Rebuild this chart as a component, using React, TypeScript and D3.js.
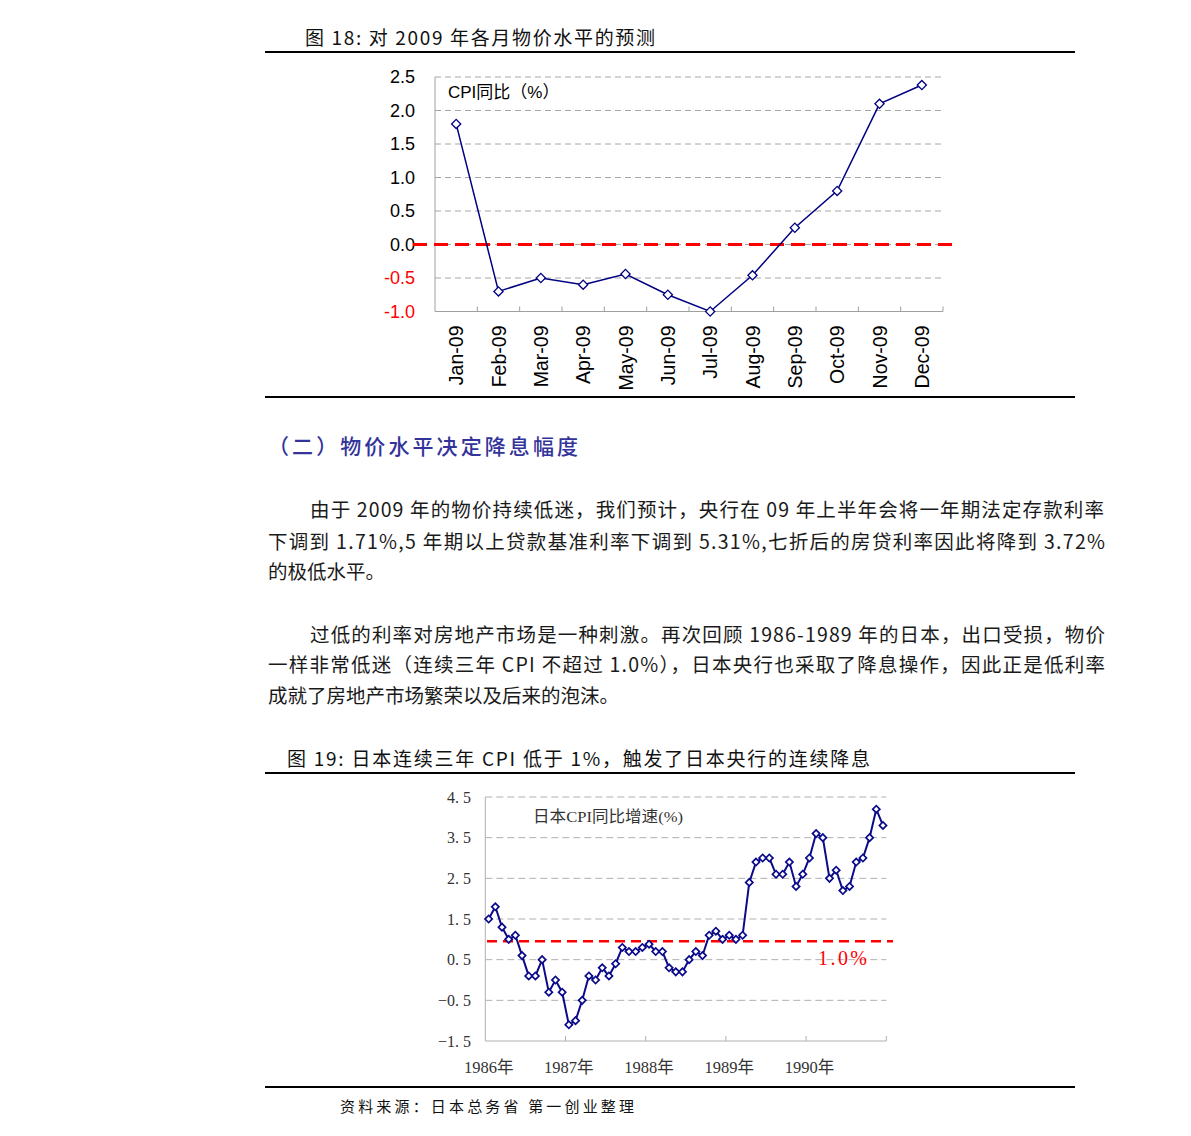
import React from "react";
import * as d3 from "d3";

// ---------- Figure 18 data ----------
const months2009 = ["Jan-09","Feb-09","Mar-09","Apr-09","May-09","Jun-09","Jul-09","Aug-09","Sep-09","Oct-09","Nov-09","Dec-09"];
const cpi2009 = [1.8, -0.7, -0.5, -0.6, -0.44, -0.75, -1.0, -0.46, 0.25, 0.8, 2.1, 2.38];
const ticks2009 = [-1.0, -0.5, 0.0, 0.5, 1.0, 1.5, 2.0, 2.5];

// ---------- Figure 19 data ----------
const jpYears = ["1986年", "1987年", "1988年", "1989年", "1990年"];
const jp1986 = [1.5, 1.8, 1.3, 1.0, 1.1, 0.6, 0.1, 0.1, 0.5, -0.3, 0.0, -0.3];
const jp1987 = [-1.1, -1.0, -0.5, 0.1, 0.0, 0.3, 0.1, 0.4, 0.8, 0.7, 0.7, 0.8];
const jp1988 = [0.88, 0.7, 0.7, 0.3, 0.2, 0.2, 0.5, 0.7, 0.6, 1.1, 1.2, 1.0];
const jp1989 = [1.1, 1.0, 1.1, 2.4, 2.9, 3.0, 3.0, 2.6, 2.6, 2.9, 2.3, 2.6];
const jp1990 = [3.0, 3.6, 3.5, 2.5, 2.7, 2.2, 2.3, 2.9, 3.0, 3.5, 4.2, 3.8];
const jpTicks = [-1.5, -0.5, 0.5, 1.5, 2.5, 3.5, 4.5];
const jpThreshold = 0.95;

const SANS = "Liberation Sans, Arial, 'Noto Sans CJK SC', sans-serif";
const CJK = "'Noto Sans CJK SC', 'Liberation Sans', sans-serif";
const SERIF = "'Liberation Serif', 'DejaVu Serif', 'Noto Sans CJK SC', serif";

function Figure18() {
  const x = d3.scaleBand<string>().domain(months2009).range([435, 943]);
  const y = d3.scaleLinear().domain([-1, 2.5]).range([311.5, 77]);
  const line = d3.line<number>()
    .x((_, i) => (x(months2009[i]) as number) + x.bandwidth() / 2)
    .y((d) => y(d));
  const diamond = d3.symbol(d3.symbolSquare, 42)() as string;
  const bounds = x.range();
  return (
    <g>
      {ticks2009.filter((t) => t !== -1).map((t) => (
        <line key={t} x1={bounds[0]} x2={bounds[1]} y1={y(t)} y2={y(t)} stroke="#a6a6a6" strokeWidth={1} strokeDasharray="6,4" />
      ))}
      <line x1={bounds[0]} x2={bounds[0]} y1={y(2.5)} y2={y(-1)} stroke="#a0a0a0" strokeWidth={1} />
      <line x1={bounds[0]} x2={bounds[1]} y1={y(-1)} y2={y(-1)} stroke="#a0a0a0" strokeWidth={1} />
      {months2009.map((m) => (
        <line key={m} x1={(x(m) as number) + x.bandwidth()} x2={(x(m) as number) + x.bandwidth()} y1={y(-1)} y2={y(-1) - 5} stroke="#a0a0a0" strokeWidth={1} />
      ))}
      {ticks2009.map((t) => (
        <text key={t} x={415} y={y(t)} textAnchor="end" dominantBaseline="central" fontFamily={SANS} fontSize={18} fill={t < 0 ? "#ff0000" : "#000"}>
          {t.toFixed(1)}
        </text>
      ))}
      {months2009.map((m) => (
        <text key={m} transform={`translate(${(x(m) as number) + x.bandwidth() / 2},${y(-1) + 14}) rotate(-90)`} textAnchor="end" dominantBaseline="central" fontFamily={SANS} fontSize={19.5} fill="#000">
          {m}
        </text>
      ))}
      <line x1={413} x2={957} y1={y(0)} y2={y(0)} stroke="#ff0000" strokeWidth={3} strokeDasharray="14,7" />
      <path d={line(cpi2009) as string} fill="none" stroke="#000080" strokeWidth={1.5} />
      {cpi2009.map((v, i) => (
        <path key={i} d={diamond} transform={`translate(${(x(months2009[i]) as number) + x.bandwidth() / 2},${y(v)}) rotate(45)`} fill="#fff" stroke="#000080" strokeWidth={1.3} />
      ))}
      <text x={448} y={92} dominantBaseline="central" fontFamily={SANS} fontSize={17} fill="#000">CPI同比（%）</text>
    </g>
  );
}

function Figure19() {
  const values = [...jp1986, ...jp1987, ...jp1988, ...jp1989, ...jp1990];
  const idx = values.map((_, i) => i);
  const x = d3.scaleBand<number>().domain(idx).range([485.3, 886.3]);
  const y = d3.scaleLinear().domain([-1.5, 4.5]).range([1041, 797]);
  const cx = (i: number) => (x(i) as number) + x.bandwidth() / 2;
  const line = d3.line<number>().x((_, i) => cx(i)).y((d) => y(d));
  const diamond = d3.symbol(d3.symbolSquare, 26)() as string;
  const [x0, x1] = x.range();
  return (
    <g>
      {jpTicks.filter((t) => t !== -1.5).map((t) => (
        <line key={t} x1={x0} x2={x1} y1={y(t)} y2={y(t)} stroke="#b0b0b0" strokeWidth={1} strokeDasharray="7,4" />
      ))}
      <line x1={x0} x2={x0} y1={y(4.5)} y2={y(-1.5)} stroke="#b0b0b0" strokeWidth={1} />
      <line x1={x0} x2={x1} y1={y(-1.5)} y2={y(-1.5)} stroke="#b0b0b0" strokeWidth={1} />
      {jpYears.map((yr, k) => (
        <line key={yr} x1={(x((k + 1) * 12 - 1) as number) + x.bandwidth()} x2={(x((k + 1) * 12 - 1) as number) + x.bandwidth()} y1={y(-1.5)} y2={y(-1.5) - 5} stroke="#b0b0b0" strokeWidth={1} />
      ))}
      {jpTicks.map((t) => (
        <text key={t} x={471} y={y(t)} textAnchor="end" dominantBaseline="central" fontFamily={SERIF} fontSize={16} fill="#333">
          {t.toFixed(1).replace(".", ". ").replace("-", "−")}
        </text>
      ))}
      {jpYears.map((yr, k) => (
        <text key={yr} x={cx(k * 12)} y={1067} textAnchor="middle" dominantBaseline="central" fontFamily={SERIF} fontSize={16.5} fill="#333">
          {yr}
        </text>
      ))}
      <line x1={487} x2={893} y1={y(jpThreshold)} y2={y(jpThreshold)} stroke="#ff0000" strokeWidth={2.5} strokeDasharray="10,6" />
      <text x={818} y={958} dominantBaseline="central" fontFamily={SERIF} fontSize={20} fill="#ff0000" textLength={49} lengthAdjust="spacing">1.0%</text>
      <path d={line(values) as string} fill="none" stroke="#0a0a8a" strokeWidth={2} />
      {values.map((v, i) => (
        <path key={i} d={diamond} transform={`translate(${cx(i)},${y(v)}) rotate(45)`} fill="#fff" stroke="#0a0a8a" strokeWidth={1.7} />
      ))}
      <text x={533} y={816} dominantBaseline="central" fontFamily={SERIF} fontSize={15.5} fill="#333" textLength={150} lengthAdjust="spacingAndGlyphs">日本CPI同比增速(%)</text>
    </g>
  );
}

type Line = { t: string; x: number; y: number; w?: number };
const para1: Line[] = [
  { t: "由于 2009 年的物价持续低迷，我们预计，央行在 09 年上半年会将一年期法定存款利率", x: 310, y: 508, w: 794 },
  { t: "下调到 1.71%,5 年期以上贷款基准利率下调到 5.31%,七折后的房贷利率因此将降到 3.72%", x: 268, y: 540, w: 837 },
  { t: "的极低水平。", x: 268, y: 570 },
];
const para2: Line[] = [
  { t: "过低的利率对房地产市场是一种刺激。再次回顾 1986-1989 年的日本，出口受损，物价", x: 310, y: 633, w: 795 },
  { t: "一样非常低迷（连续三年 CPI 不超过 1.0%），日本央行也采取了降息操作，因此正是低利率", x: 268, y: 663, w: 837 },
  { t: "成就了房地产市场繁荣以及后来的泡沫。", x: 268, y: 694 },
];

export default function App() {
  return (
    <svg width={1191} height={1136} style={{ position: "absolute", left: 0, top: 0, background: "#fff" }}>
      <rect width={1191} height={1136} fill="#fff" />
      <text x={305} y={36} dominantBaseline="central" fontFamily={CJK} fontSize={19} fill="#111" textLength={350} lengthAdjust="spacing">图 18: 对 2009 年各月物价水平的预测</text>
      <line x1={265} x2={1075} y1={52} y2={52} stroke="#000" strokeWidth={2} />
      <Figure18 />
      <line x1={265} x2={1075} y1={397} y2={397} stroke="#000" strokeWidth={2} />

      <text x={268} y={445} dominantBaseline="central" fontFamily={CJK} fontSize={21} fontWeight={500} fill="#33339a" textLength={310} lengthAdjust="spacing">（二）物价水平决定降息幅度</text>

      {[...para1, ...para2].map((l, i) => (
        <text key={i} x={l.x} y={l.y} dominantBaseline="central" fontFamily={CJK} fontSize={19.5} fill="#1a1a1a" {...(l.w ? { textLength: l.w, lengthAdjust: "spacing" } : {})}>
          {l.t}
        </text>
      ))}

      <text x={287} y={757} dominantBaseline="central" fontFamily={CJK} fontSize={19} fill="#111" textLength={583} lengthAdjust="spacing">图 19: 日本连续三年 CPI 低于 1%，触发了日本央行的连续降息</text>
      <line x1={265} x2={1075} y1={773} y2={773} stroke="#000" strokeWidth={2} />
      <Figure19 />
      <line x1={265} x2={1075} y1={1087} y2={1087} stroke="#000" strokeWidth={2} />
      <text x={340} y={1105} dominantBaseline="central" fontFamily={CJK} fontSize={15} fill="#111" textLength={294} lengthAdjust="spacing">资料来源：日本总务省 第一创业整理</text>
    </svg>
  );
}
